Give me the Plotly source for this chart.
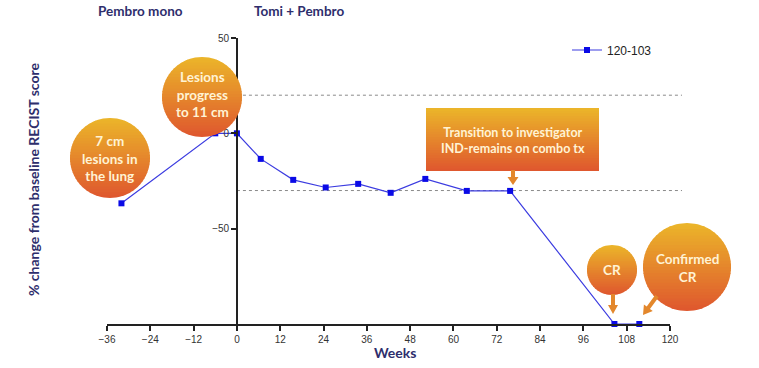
import plotly.graph_objects as go
import math

# ---- data ----
weeks = [-32, -6, 0, 6.6, 15.6, 24.6, 33.6, 42.6, 52.2, 63.7, 75.7, 104.6, 111.5]
pct_change = [-36.7, 0, 0, -13.4, -24.4, -28.4, -26.5, -31.2, -23.9, -30.2, -30.2, -100, -100]
series_name = "120-103"
x_ticks = [-36, -24, -12, 0, 12, 24, 36, 48, 60, 72, 84, 96, 108, 120]
y_ticks = [50, 0, -50]
ref_lines = [20, -30]

W, H = 759, 368
L, R, T, B = 107, 89, 38, 44
PW, PH = W - L - R, H - T - B
XR = [-36, 120]
YR = [-100, 50]

def px(x):
    return (x - L) / PW

def py(y):
    return (H - B - y) / PH

def hexrgb(h):
    h = h.lstrip('#')
    return [int(h[i:i + 2], 16) for i in (0, 2, 4)]

def mix(c1, c2, t):
    a, b = hexrgb(c1), hexrgb(c2)
    return 'rgb(%d,%d,%d)' % tuple(round(a[i] + (b[i] - a[i]) * t) for i in range(3))

TOP = '#EBB42A'
BOT = '#DF582E'
ORANGE = '#E3872C'
NAVY = '#2E2E6C'

shapes = []

def path_from(points):
    return 'M ' + ' L '.join('%.5f,%.5f' % (px(x), py(y)) for x, y in points) + ' Z'

def grad_circle(cx, cy, r, n=28):
    h = 2 * r / n
    for i in range(n):
        y0 = cy - r + i * h
        y1 = min(y0 + h + 0.8, cy + r)
        ys = [y0 + (y1 - y0) * k / 6 for k in range(7)]
        right = [(cx + math.sqrt(max(r * r - (y - cy) ** 2, 0)), y) for y in ys]
        left = [(cx - math.sqrt(max(r * r - (y - cy) ** 2, 0)), y) for y in reversed(ys)]
        shapes.append(dict(type='path', xref='paper', yref='paper', path=path_from(right + left),
                           fillcolor=mix(TOP, BOT, i / (n - 1)), line=dict(width=0), layer='above'))

def grad_rect(x0, y0, x1, y1, n=24):
    h = (y1 - y0) / n
    for i in range(n):
        a = y0 + i * h
        b = min(a + h + 0.8, y1)
        shapes.append(dict(type='rect', xref='paper', yref='paper', x0=px(x0), x1=px(x1), y0=py(b), y1=py(a),
                           fillcolor=mix(TOP, BOT, i / (n - 1)), line=dict(width=0), layer='above'))

def arrow(x0, y0, x1, y1, stem=4, head=11, hlen=8):
    dx, dy = x1 - x0, y1 - y0
    d = math.hypot(dx, dy)
    ux, uy = dx / d, dy / d
    nx, ny = -uy, ux
    bx, by = x1 - ux * hlen, y1 - uy * hlen
    s, hh = stem / 2, head / 2
    pts = [(x0 + nx * s, y0 + ny * s), (bx + nx * s, by + ny * s), (bx + nx * hh, by + ny * hh), (x1, y1),
           (bx - nx * hh, by - ny * hh), (bx - nx * s, by - ny * s), (x0 - nx * s, y0 - ny * s)]
    shapes.append(dict(type='path', xref='paper', yref='paper', path=path_from(pts),
                       fillcolor=ORANGE, line=dict(width=0), layer='above'))

# reference dotted lines (from y-axis to beyond the x-axis end)
for v in ref_lines:
    yp = (v - YR[0]) / (YR[1] - YR[0])
    shapes.append(dict(type='line', xref='paper', yref='paper',
                       x0=(0 - XR[0]) / (XR[1] - XR[0]), x1=px(682), y0=yp, y1=yp,
                       line=dict(color='#8A8A8A', width=1, dash='dot'), layer='below'))

# callouts
grad_circle(110, 158, 40)
grad_circle(202, 97, 40)
grad_rect(426, 108, 599, 171)
arrow(513, 170, 513, 185, stem=4, head=11, hlen=8)
grad_circle(612, 270, 25)
arrow(613, 294, 613, 314, stem=4, head=10, hlen=9)
grad_circle(687, 267, 44)
arrow(657, 296, 643, 315, stem=4, head=11, hlen=9)

CREAM = '#FFF3D4'
FONT_B = 'Lato'

annotations = []

def txt(x, y, s, size=13, color=CREAM, bold=True, **kw):
    annotations.append(dict(x=px(x), y=py(y), xref='paper', yref='paper', text=('<b>%s</b>' % s) if bold else s,
                            showarrow=False, font=dict(family=FONT_B, size=size, color=color),
                            xanchor='center', yanchor='middle', **kw))

txt(110, 158, '7 cm<br>lesions in<br>the lung', size=13.5)
txt(202, 94, 'Lesions<br>progress<br>to 11 cm', size=13.5)
txt(513, 140, 'Transition to investigator<br>IND-remains on combo tx', size=12.5)
txt(612, 270, 'CR', size=13.5)
txt(687, 268, 'Confirmed<br>CR', size=13.5)

txt(140, 11, 'Pembro mono', size=13.5, color=NAVY)
txt(299, 11, 'Tomi + Pembro', size=13.5, color=NAVY)
txt(395, 352, 'Weeks', size=14, color=NAVY)
txt(33, 180, '% change from baseline RECIST score', size=14, color=NAVY, textangle=-90)

fig = go.Figure()
fig.add_trace(go.Scatter(
    x=weeks, y=pct_change, mode='lines+markers', name=series_name,
    line=dict(color='#3C3CE0', width=1.2),
    marker=dict(symbol='square', size=6, color='#0A0AE6'),
    cliponaxis=False,
))

fig.update_layout(
    width=W, height=H,
    margin=dict(l=L, r=R, t=T, b=B),
    paper_bgcolor='white', plot_bgcolor='white',
    showlegend=True,
    legend=dict(x=px(567), y=py(50), xanchor='left', yanchor='middle', itemwidth=30,
                font=dict(family='Liberation Sans', size=12, color='#222'), bgcolor='rgba(0,0,0,0)'),
    xaxis=dict(range=XR, tickvals=x_ticks, ticks='outside', ticklen=5, tickwidth=1.5, tickcolor='#222',
               showline=True, linecolor='#222', linewidth=1.5, showgrid=False, zeroline=False,
               tickfont=dict(family='Liberation Sans', size=10, color='#333')),
    yaxis=dict(range=YR, tickvals=y_ticks, ticks='outside', ticklen=5, tickwidth=1.5, tickcolor='#222',
               showline=True, linecolor='#222', linewidth=1.5, showgrid=False, zeroline=False,
               anchor='free', position=(0 - XR[0]) / (XR[1] - XR[0]),
               tickfont=dict(family='Liberation Sans', size=10, color='#333')),
    shapes=shapes,
    annotations=annotations,
)

fig.write_html('out.html', config={'displayModeBar': False},
               post_script="document.body.style.margin='0';")
